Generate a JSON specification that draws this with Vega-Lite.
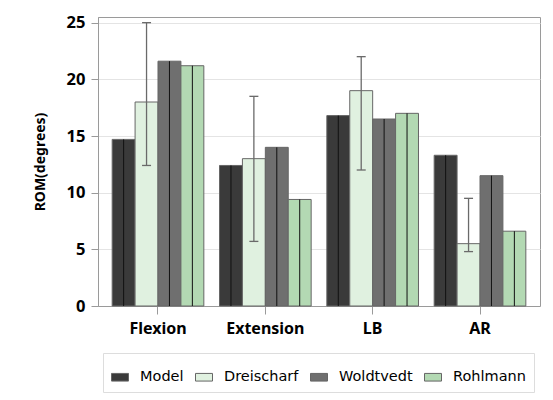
{
  "$schema": "https://vega.github.io/schema/vega-lite/v6.json",
  "width": 442,
  "height": 289,
  "autosize": {"type": "none"},
  "padding": {"left": 98, "top": 17, "right": 13, "bottom": 94},
  "background": "white",
  "config": {
    "view": {"stroke": "#9a9a9a", "strokeWidth": 1},
    "axis": {
      "domainColor": "#9a9a9a",
      "tickColor": "#9a9a9a",
      "labelColor": "#000000",
      "titleColor": "#000000",
      "labelFont": "Noto Sans",
      "titleFont": "Noto Sans",
      "labelFontWeight": "bold",
      "titleFontWeight": "bold"
    }
  },
  "data": {
    "values": [
      {"cat": "Flexion", "series": "Model", "value": 14.7},
      {"cat": "Flexion", "series": "Dreischarf", "value": 18.0, "lo": 12.4, "hi": 25.0},
      {"cat": "Flexion", "series": "Woldtvedt", "value": 21.6},
      {"cat": "Flexion", "series": "Rohlmann", "value": 21.2},
      {"cat": "Extension", "series": "Model", "value": 12.4},
      {"cat": "Extension", "series": "Dreischarf", "value": 13.0, "lo": 5.7, "hi": 18.5},
      {"cat": "Extension", "series": "Woldtvedt", "value": 14.0},
      {"cat": "Extension", "series": "Rohlmann", "value": 9.4},
      {"cat": "LB", "series": "Model", "value": 16.8},
      {"cat": "LB", "series": "Dreischarf", "value": 19.0, "lo": 12.0, "hi": 22.0},
      {"cat": "LB", "series": "Woldtvedt", "value": 16.5},
      {"cat": "LB", "series": "Rohlmann", "value": 17.0},
      {"cat": "AR", "series": "Model", "value": 13.3},
      {"cat": "AR", "series": "Dreischarf", "value": 5.5, "lo": 4.8, "hi": 9.5},
      {"cat": "AR", "series": "Woldtvedt", "value": 11.5},
      {"cat": "AR", "series": "Rohlmann", "value": 6.6}
    ]
  },
  "encoding": {
    "x": {
      "field": "cat",
      "type": "nominal",
      "sort": ["Flexion", "Extension", "LB", "AR"],
      "scale": {"paddingInner": 0.146, "paddingOuter": 0.132},
      "axis": {
        "title": null,
        "labelAngle": 0,
        "labelFontSize": 16,
        "tickSize": 8,
        "labelPadding": 6,
        "grid": false
      }
    },
    "xOffset": {
      "field": "series",
      "type": "nominal",
      "scale": {"domain": ["Model", "Dreischarf", "Woldtvedt", "Rohlmann"], "paddingInner": 0, "paddingOuter": 0}
    }
  },
  "layer": [
    {
      "mark": {"type": "bar", "stroke": "#666666", "strokeWidth": 1},
      "encoding": {
        "y": {
          "field": "value",
          "type": "quantitative",
          "scale": {"domain": [0, 25.5], "nice": false},
          "axis": {
            "title": "ROM(degrees)",
            "titleFontSize": 14,
            "titlePadding": 19,
            "values": [0, 5, 10, 15, 20, 25],
            "labelFontSize": 16.5,
            "tickSize": 7,
            "labelPadding": 6,
            "grid": true,
            "gridColor": "#e4e4e4"
          }
        },
        "color": {
          "field": "series",
          "type": "nominal",
          "scale": {
            "domain": ["Model", "Dreischarf", "Woldtvedt", "Rohlmann"],
            "range": ["#3a3a3a", "#e0f1e0", "#6f6f6f", "#b3d9b3"]
          },
          "legend": {
            "title": " ",
            "titleFontSize": 5,
            "titlePadding": 2,
            "orient": "none",
            "legendX": 5,
            "legendY": 336,
            "direction": "horizontal",
            "strokeColor": "#dddddd",
            "padding": 8,
            "symbolType": "M-1,-0.45H1V0.45H-1Z",
            "symbolSize": 289,
            "symbolStrokeColor": "#666666",
            "symbolStrokeWidth": 1,
            "symbolOpacity": 1,
            "labelFont": "DejaVu Sans",
            "labelFontSize": 14.5,
            "labelColor": "#000000",
            "labelOffset": 11,
            "columnPadding": 9
          }
        }
      }
    },
    {
      "transform": [{"filter": "datum.series !== 'Dreischarf'"}],
      "mark": {"type": "rule", "color": "#111111", "strokeWidth": 1},
      "encoding": {
        "y": {"field": "value", "type": "quantitative"},
        "y2": {"datum": 0}
      }
    },
    {
      "transform": [{"filter": "datum.series === 'Dreischarf'"}],
      "mark": {"type": "rule", "color": "#6a6a6a", "strokeWidth": 1.3},
      "encoding": {
        "y": {"field": "lo", "type": "quantitative"},
        "y2": {"field": "hi"}
      }
    },
    {
      "transform": [{"filter": "datum.series === 'Dreischarf'"}],
      "mark": {"type": "tick", "color": "#6a6a6a", "size": 9, "thickness": 1.3, "opacity": 1},
      "encoding": {
        "y": {"field": "hi", "type": "quantitative"}
      }
    },
    {
      "transform": [{"filter": "datum.series === 'Dreischarf'"}],
      "mark": {"type": "tick", "color": "#6a6a6a", "size": 9, "thickness": 1.3, "opacity": 1},
      "encoding": {
        "y": {"field": "lo", "type": "quantitative"}
      }
    }
  ]
}
